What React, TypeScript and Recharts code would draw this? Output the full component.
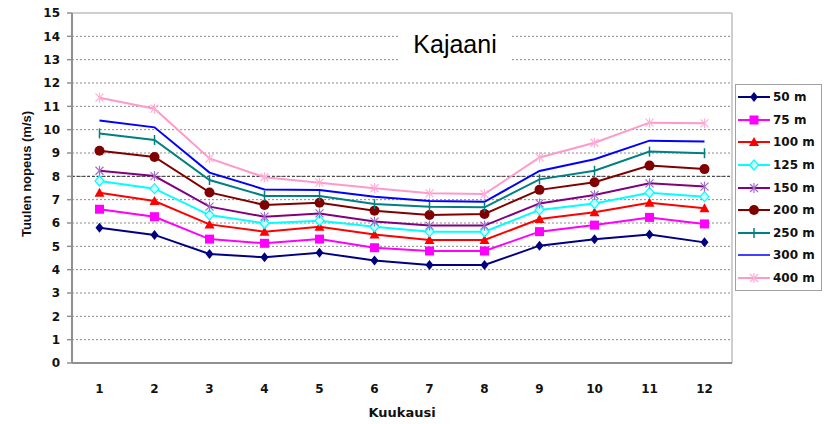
import React from "react";
import {
  CartesianGrid,
  Legend,
  Line,
  LineChart,
  ReferenceLine,
  XAxis,
  YAxis,
} from "recharts";

// Kajaani, monthly mean wind speed by height
const months = [1, 2, 3, 4, 5, 6, 7, 8, 9, 10, 11, 12];
const monthEdges = [0.5, 1.5, 2.5, 3.5, 4.5, 5.5, 6.5, 7.5, 8.5, 9.5, 10.5, 11.5, 12.5];
const yTicks = [0, 1, 2, 3, 4, 5, 6, 7, 8, 9, 10, 11, 12, 13, 14, 15];

const v50 = [5.8, 5.49, 4.67, 4.53, 4.73, 4.39, 4.2, 4.2, 5.03, 5.3, 5.51, 5.17];
const v75 = [6.59, 6.27, 5.31, 5.13, 5.31, 4.94, 4.8, 4.8, 5.63, 5.91, 6.24, 5.96];
const v100 = [7.3, 6.94, 5.94, 5.63, 5.84, 5.51, 5.27, 5.27, 6.17, 6.46, 6.87, 6.63];
const v125 = [7.8, 7.47, 6.34, 5.99, 6.1, 5.84, 5.63, 5.63, 6.56, 6.84, 7.3, 7.13];
const v150 = [8.24, 8.01, 6.7, 6.27, 6.41, 6.06, 5.89, 5.89, 6.84, 7.2, 7.7, 7.56];
const v200 = [9.1, 8.83, 7.31, 6.77, 6.87, 6.53, 6.34, 6.39, 7.42, 7.75, 8.46, 8.31];
const v250 = [9.84, 9.56, 7.84, 7.16, 7.16, 6.81, 6.7, 6.67, 7.87, 8.24, 9.06, 8.99];
const v300 = [10.39, 10.1, 8.16, 7.44, 7.41, 7.13, 6.94, 6.91, 8.23, 8.73, 9.53, 9.49];
const v400 = [11.37, 10.9, 8.77, 7.96, 7.73, 7.49, 7.27, 7.24, 8.81, 9.44, 10.3, 10.27];

type Kind = "diamond" | "square" | "triangle" | "hollow" | "star" | "circle" | "plus" | "none";

const series: { key: string; name: string; values: number[]; color: string; kind: Kind }[] = [
  { key: "h50", name: "50 m", values: v50, color: "#000080", kind: "diamond" },
  { key: "h75", name: "75 m", values: v75, color: "#ff00ff", kind: "square" },
  { key: "h100", name: "100 m", values: v100, color: "#ff0000", kind: "triangle" },
  { key: "h125", name: "125 m", values: v125, color: "#00ffff", kind: "hollow" },
  { key: "h150", name: "150 m", values: v150, color: "#800080", kind: "star" },
  { key: "h200", name: "200 m", values: v200, color: "#800000", kind: "circle" },
  { key: "h250", name: "250 m", values: v250, color: "#008080", kind: "plus" },
  { key: "h300", name: "300 m", values: v300, color: "#0000ff", kind: "none" },
  { key: "h400", name: "400 m", values: v400, color: "#ff99cc", kind: "star" },
];

const data = months.map((m, i) => {
  const row: Record<string, number> = { month: m };
  series.forEach((s) => (row[s.key] = s.values[i]));
  return row;
});

const labelFont = "'DejaVu Sans', Verdana, sans-serif";

function Marker({ kind, cx, cy, color }: { kind: Kind; cx: number; cy: number; color: string }) {
  switch (kind) {
    case "diamond":
      return <polygon points={`${cx},${cy - 5} ${cx + 4},${cy} ${cx},${cy + 5} ${cx - 4},${cy}`} fill={color} />;
    case "square":
      return <rect x={cx - 4.5} y={cy - 4.5} width={9} height={9} fill={color} />;
    case "triangle":
      return <polygon points={`${cx},${cy - 5} ${cx + 5},${cy + 4} ${cx - 5},${cy + 4}`} fill={color} />;
    case "hollow":
      return (
        <polygon
          points={`${cx},${cy - 5} ${cx + 4.5},${cy} ${cx},${cy + 5} ${cx - 4.5},${cy}`}
          fill="#ccffff"
          stroke={color}
          strokeWidth={1.2}
        />
      );
    case "star": {
      const c = color === "#800080" ? "#a070c8" : "#ffb0d8";
      return (
        <g stroke={c} strokeWidth={1.2}>
          <line x1={cx - 4} y1={cy - 4} x2={cx + 4} y2={cy + 4} />
          <line x1={cx - 4} y1={cy + 4} x2={cx + 4} y2={cy - 4} />
          <line x1={cx} y1={cy - 5} x2={cx} y2={cy + 5} />
        </g>
      );
    }
    case "circle":
      return <circle cx={cx} cy={cy} r={5} fill={color} />;
    case "plus":
      return <line x1={cx} y1={cy - 5} x2={cx} y2={cy + 5} stroke={color} strokeWidth={1.5} />;
    default:
      return null;
  }
}

function LegendBox() {
  return (
    <div
      style={{
        width: 85,
        height: 204,
        border: "1.5px solid #a0a0a0",
        background: "#fff",
        paddingTop: 1,
        boxSizing: "content-box",
      }}
    >
      {series.map((s) => (
        <div key={s.key} style={{ display: "flex", alignItems: "center", height: 22.6 }}>
          <svg width={36} height={14} style={{ flex: "none" }}>
            <line x1={2} y1={7} x2={34} y2={7} stroke={s.color} strokeWidth={s.kind === "none" ? 1.5 : 2} />
            <Marker kind={s.kind} cx={18} cy={7} color={s.color} />
          </svg>
          <span style={{ fontFamily: labelFont, fontWeight: "bold", fontSize: 12, color: "#111", marginLeft: 1 }}>
            {s.name}
          </span>
        </div>
      ))}
    </div>
  );
}

export default function App() {
  return (
    <div style={{ position: "absolute", left: 0, top: 0, width: 827, height: 424, background: "#fff" }}>
      <LineChart width={827} height={424} data={data} margin={{ top: 13, right: 95, left: 22, bottom: 0 }}>
        <CartesianGrid vertical={false} stroke="#8a8a8a" strokeDasharray="2 2" />
        <XAxis
          xAxisId="edges"
          type="number"
          domain={[0.5, 12.5]}
          ticks={monthEdges}
          tick={false}
          tickSize={5}
          height={0}
          axisLine={false}
          tickLine={{ stroke: "#909090", strokeWidth: 1.5 }}
        />
        <XAxis
          xAxisId="m"
          dataKey="month"
          type="number"
          domain={[0.5, 12.5]}
          ticks={months}
          height={61}
          tickLine={false}
          tickSize={0}
          tickMargin={21}
          axisLine={{ stroke: "#909090", strokeWidth: 2 }}
          tick={{ fontFamily: labelFont, fontWeight: "bold", fontSize: 12, fill: "#111" }}
          label={{
            value: "Kuukausi",
            position: "insideBottom",
            offset: 7,
            style: { fontFamily: labelFont, fontWeight: "bold", fontSize: 13, fill: "#111" },
          }}
        />
        <YAxis
          type="number"
          domain={[0, 15]}
          ticks={yTicks}
          width={50}
          interval={0}
          tickSize={5}
          tickMargin={7}
          axisLine={{ stroke: "#909090", strokeWidth: 2 }}
          tickLine={{ stroke: "#909090", strokeWidth: 1.5 }}
          tick={{ fontFamily: labelFont, fontWeight: "bold", fontSize: 12, fill: "#111" }}
          label={{
            content: () => (
              <text
                transform="translate(26,174) rotate(-90)"
                textAnchor="middle"
                dominantBaseline="central"
                style={{ fontFamily: "'Liberation Sans', Arial, sans-serif", fontWeight: "bold", fontSize: 13, fill: "#111" }}
              >
                Tuulen nopeus (m/s)
              </text>
            ),
          }}
        />
        <ReferenceLine xAxisId="m" y={8} stroke="#333" strokeDasharray="3 2" />
        <ReferenceLine xAxisId="m" y={15} stroke="#cfcfcf" strokeWidth={2} />
        <ReferenceLine xAxisId="m" x={12.5} stroke="#cfcfcf" strokeWidth={2} />
        {series.map((s) => (
          <Line
            key={s.key}
            xAxisId="m"
            dataKey={s.key}
            name={s.name}
            stroke={s.color}
            strokeWidth={2}
            type="linear"
            isAnimationActive={false}
            dot={(p: any) => (
              <Marker key={`${s.key}-${p.index}`} kind={s.kind} cx={p.cx} cy={p.cy} color={s.color} />
            )}
            activeDot={false}
          />
        ))}
        <Legend
          layout="vertical"
          align="center"
          verticalAlign="middle"
          wrapperStyle={{ left: 735, top: 84, width: 88 }}
          content={() => <LegendBox />}
        />
      </LineChart>
      <div
        style={{
          position: "absolute",
          left: 398,
          top: 24,
          width: 114,
          height: 40,
          lineHeight: "40px",
          background: "#fff",
          textAlign: "center",
          fontFamily: "'Liberation Sans', Arial, sans-serif",
          fontSize: 25,
          color: "#000",
        }}
      >
        Kajaani
      </div>
    </div>
  );
}
